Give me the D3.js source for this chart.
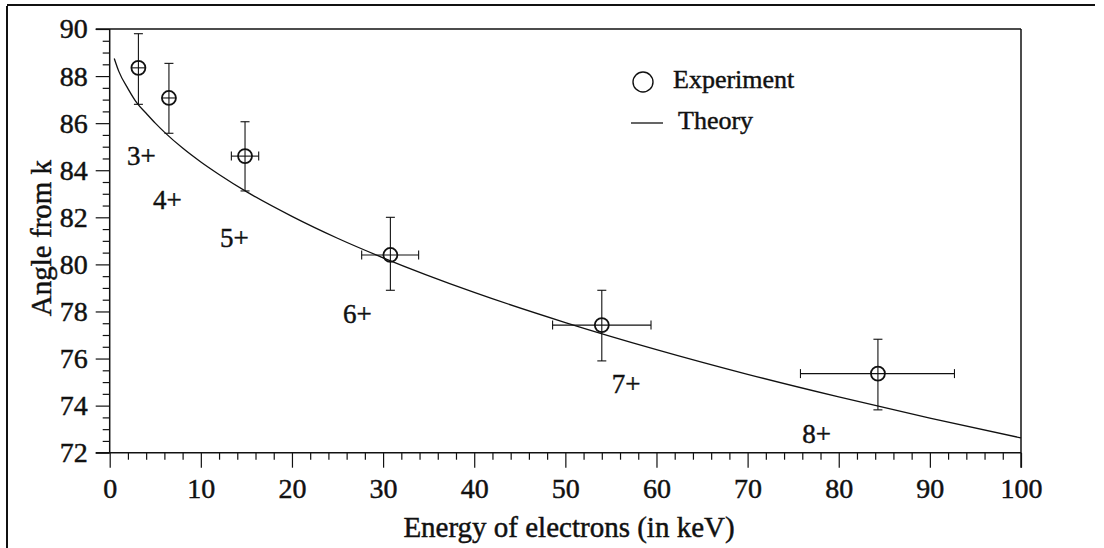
<!DOCTYPE html>
<html>
<head>
<meta charset="utf-8">
<script src="https://cdn.jsdelivr.net/npm/d3@7"></script>
<style>
  html, body { margin: 0; padding: 0; background: #fff; }
  svg { display: block; }
  text { font-family: "Liberation Serif", "Times New Roman", serif; fill: #111; stroke: #111; stroke-width: 0.45px; }
</style>
</head>
<body>
<svg id="chart" width="1104" height="548"></svg>
<script>
// ---- data ----
const expEnergy   = [3.15, 6.5, 14.85, 30.8, 54.0, 84.3];
const expAngle    = [88.35, 87.07, 84.6, 80.4, 77.42, 75.36];
const expAngleLo  = [86.8, 85.57, 83.12, 78.9, 75.9, 73.82];
const expAngleHi  = [89.8, 88.54, 86.06, 82.0, 78.9, 76.82];
const expEnergyLo = [3.15, 6.5, 13.35, 27.65, 48.6, 75.8];
const expEnergyHi = [3.15, 6.5, 16.35, 33.9, 59.4, 92.7];

const theoryEnergy = [0.5, 1, 2, 3, 4, 5, 6, 8, 10, 12, 15, 20, 25, 30, 40, 50, 60, 70, 80, 90, 100];
const theoryAngle  = [88.75, 88.2, 87.47, 86.85, 86.42, 86.0, 85.62, 84.94, 84.35, 83.82, 83.09,
                      82.04, 81.11, 80.28, 78.81, 77.53, 76.38, 75.33, 74.37, 73.47, 72.63];

const chargeLabels = ["3+", "4+", "5+", "6+", "7+", "8+"];
const labelEnergy  = [1.9, 4.75, 12.1, 25.6, 55.1, 76.0];
const labelAngle   = [84.22, 82.35, 80.74, 77.51, 74.55, 72.41];

const xTicks = [0, 10, 20, 30, 40, 50, 60, 70, 80, 90, 100];
const yTicks = [72, 74, 76, 78, 80, 82, 84, 86, 88, 90];

const xTitle = "Energy of electrons (in keV)";
const yTitle = "Angle from k";
const legendItems = ["Experiment", "Theory"];

// ---- layout ----
const svg = d3.select("#chart");
const L = 109.7, R = 1021, T = 29, B = 452.7;
const x = d3.scaleLinear().domain([0, 100]).range([L, R]);
const y = d3.scaleLinear().domain([72, 90]).range([B, T]);

// outer partial frame (scan border)
svg.append("line").attr("x1", 7).attr("x2", 7).attr("y1", 6).attr("y2", 548)
  .attr("stroke", "#111").attr("stroke-width", 2);
svg.append("line").attr("x1", 7).attr("x2", 1095).attr("y1", 5).attr("y2", 5)
  .attr("stroke", "#111").attr("stroke-width", 2);

// x axis
const xAxis = d3.axisBottom(x).tickValues(xTicks).tickSize(15).tickSizeOuter(0).tickPadding(10);
const gx = svg.append("g").attr("transform", `translate(0,${B})`).call(xAxis);
gx.select(".domain").remove();
gx.selectAll(".tick text").style("font-size", "28px").attr("dy", "0.72em");
const xMinor = d3.axisBottom(x).tickValues(d3.range(0, 101, 2).filter(v => v % 10 !== 0))
  .tickSize(7).tickFormat("");
const gxm = svg.append("g").attr("transform", `translate(0,${B})`).call(xMinor);
gxm.select(".domain").remove();

// y axis
const yAxis = d3.axisLeft(y).tickValues(yTicks).tickSize(14).tickSizeOuter(0).tickPadding(8);
const gy = svg.append("g").attr("transform", `translate(${L},0)`).call(yAxis);
gy.select(".domain").remove();
gy.selectAll(".tick text").style("font-size", "28px");
const yMinor = d3.axisLeft(y).tickValues(d3.range(72, 90.01, 0.5).filter(v => v % 2 !== 0))
  .tickSize(7).tickFormat("");
const gym = svg.append("g").attr("transform", `translate(${L},0)`).call(yMinor);
gym.select(".domain").remove();

svg.selectAll(".tick line").attr("stroke", "#111").attr("stroke-width", 1.2);

// plot box lines: left, bottom, top, right
svg.append("line").attr("x1", L).attr("x2", L).attr("y1", T).attr("y2", B).attr("stroke", "#111").attr("stroke-width", 1.5);
svg.append("line").attr("x1", L - 14).attr("x2", R).attr("y1", B).attr("y2", B).attr("stroke", "#111").attr("stroke-width", 1.5);
svg.append("line").attr("x1", L - 14).attr("x2", R).attr("y1", T).attr("y2", T).attr("stroke", "#111").attr("stroke-width", 1.5);
svg.append("line").attr("x1", R).attr("x2", R).attr("y1", T).attr("y2", B + 15).attr("stroke", "#111").attr("stroke-width", 1.5);

// theory curve
const theory = theoryEnergy.map((e, i) => [e, theoryAngle[i]]);
svg.append("path").datum(theory)
  .attr("d", d3.line().x(d => x(d[0])).y(d => y(d[1])).curve(d3.curveMonotoneX))
  .attr("fill", "none").attr("stroke", "#111").attr("stroke-width", 1.3);

// experimental points with error bars
const pts = expEnergy.map((e, i) => ({
  e, a: expAngle[i], aLo: expAngleLo[i], aHi: expAngleHi[i], eLo: expEnergyLo[i], eHi: expEnergyHi[i]
}));
const g = svg.append("g").attr("stroke", "#111").attr("fill", "none");
const cap = 4.5;
pts.forEach(p => {
  g.append("line").attr("x1", x(p.e)).attr("x2", x(p.e)).attr("y1", y(p.aHi)).attr("y2", y(p.aLo)).attr("stroke-width", 1.1);
  g.append("line").attr("x1", x(p.e) - cap).attr("x2", x(p.e) + cap).attr("y1", y(p.aHi)).attr("y2", y(p.aHi)).attr("stroke-width", 1.1);
  g.append("line").attr("x1", x(p.e) - cap).attr("x2", x(p.e) + cap).attr("y1", y(p.aLo)).attr("y2", y(p.aLo)).attr("stroke-width", 1.1);
  if (p.eHi > p.eLo) {
    g.append("line").attr("x1", x(p.eLo)).attr("x2", x(p.eHi)).attr("y1", y(p.a)).attr("y2", y(p.a)).attr("stroke-width", 1.1);
    g.append("line").attr("x1", x(p.eLo)).attr("x2", x(p.eLo)).attr("y1", y(p.a) - cap).attr("y2", y(p.a) + cap).attr("stroke-width", 1.1);
    g.append("line").attr("x1", x(p.eHi)).attr("x2", x(p.eHi)).attr("y1", y(p.a) - cap).attr("y2", y(p.a) + cap).attr("stroke-width", 1.1);
  } else {
    g.append("line").attr("x1", x(p.e) - 7).attr("x2", x(p.e) + 7).attr("y1", y(p.a)).attr("y2", y(p.a)).attr("stroke-width", 1.1);
  }
  g.append("circle").attr("cx", x(p.e)).attr("cy", y(p.a)).attr("r", 7).attr("stroke-width", 1.8);
});

// charge-state labels
svg.append("g").selectAll("text").data(chargeLabels).join("text")
  .attr("x", (d, i) => x(labelEnergy[i])).attr("y", (d, i) => y(labelAngle[i]))
  .style("font-size", "27px").text(d => d);

// legend
svg.append("circle").attr("cx", 643).attr("cy", 82).attr("r", 10)
  .attr("fill", "none").attr("stroke", "#111").attr("stroke-width", 1.4);
svg.append("text").attr("x", 673).attr("y", 88).style("font-size", "26px").text(legendItems[0]);
svg.append("line").attr("x1", 631).attr("x2", 663).attr("y1", 123).attr("y2", 123)
  .attr("stroke", "#111").attr("stroke-width", 1.3);
svg.append("text").attr("x", 678).attr("y", 129).style("font-size", "26px").text(legendItems[1]);

// axis titles
svg.append("text").attr("x", 569).attr("y", 537).attr("text-anchor", "middle")
  .style("font-size", "29px").text(xTitle);
svg.append("text").attr("transform", "translate(51,238) rotate(-90)").attr("text-anchor", "middle")
  .style("font-size", "29px").text(yTitle);
</script>
</body>
</html>
